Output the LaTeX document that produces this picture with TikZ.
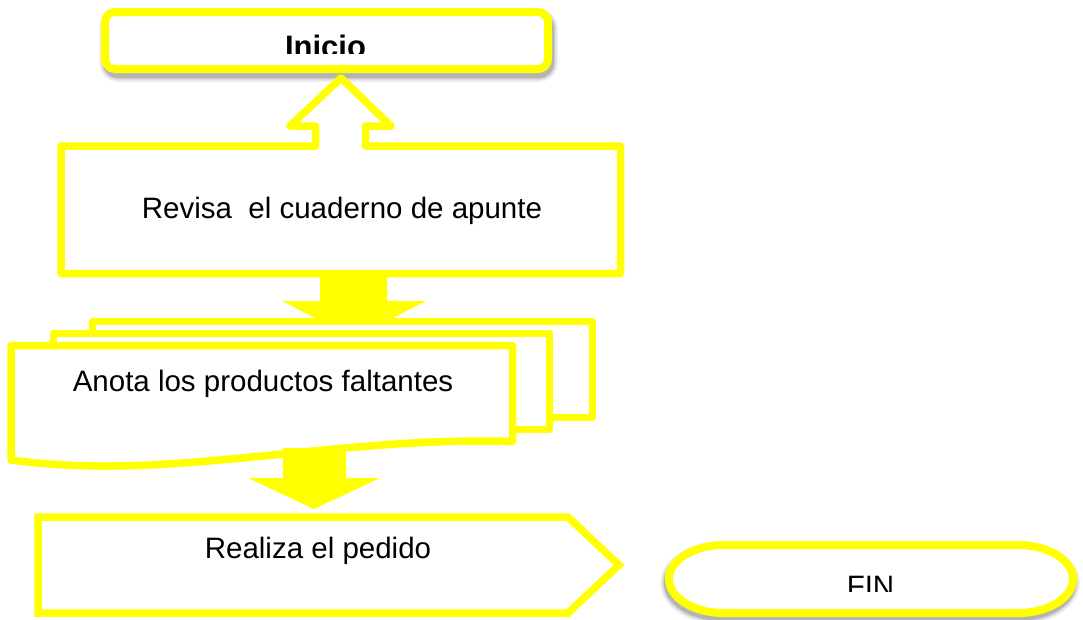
\documentclass[tikz,border=0pt]{standalone}
\usepackage{fontspec}
\setmainfont{Liberation Sans}
\begin{document}
\begin{tikzpicture}[x=1pt,y=-1pt,
  yl/.style={draw={rgb,255:red,255;green,255;blue,0}},
  ylf/.style={fill={rgb,255:red,255;green,255;blue,0}},
  shape line/.style={yl, line width=7.5pt, fill=white, line join=round},
  lbl/.style={font=\fontsize{29.5}{34}\selectfont, anchor=base, inner sep=0pt},
  blk/.style={ylf, draw=none}
]
\useasboundingbox (0,0) rectangle (1083,619);

% --- Inicio (terminal) with shadow
\foreach \w/\o in {16/0.05,13/0.07,10/0.09,8/0.12}
  \draw[line width=\w pt, black, opacity=\o, rounded corners=11] (107,17) rectangle (550,74);
\draw[shape line, line width=8pt, rounded corners=10] (105,12) rectangle (548,69);
\coordinate (inicio) at (326,69);
\begin{scope}
  \clip (200,20) rectangle (450,53);
  \node[lbl, font=\fontsize{31}{36}\selectfont\bfseries] (tinicio) at (325.5,57) {Inicio};
\end{scope}

% --- Revisa box with up block arrow
\draw[shape line] (61,146) -- (315.5,146) -- (315.5,126) -- (290,126) -- (341,78)
  -- (391,126) -- (365.5,126) -- (365.5,146) -- (620.5,146) -- (620.5,273.5)
  -- (61,273.5) -- cycle;
\node[lbl] (trevisa) at (342,218) {Revisa\ \ el cuaderno de apunte};

% --- block arrow 1 (behind the documents)
\fill[blk] (320,273) -- (387,273) -- (387,301) -- (426,301) -- (354,338)
  -- (282,301) -- (320,301) -- cycle;

% --- multi-document
\draw[shape line] (92.5,321.5) rectangle (592.5,417.5);
\draw[shape line] (53.5,333.5) rectangle (549.5,429.5);
\draw[shape line] (11,345.5) -- (512.5,345.5) -- (512.5,441.5)
  .. controls (330,436) and (170,482) .. (11,460) -- cycle;
\node[lbl] (tanota) at (263,391) {Anota los productos faltantes};

% --- block arrow 2
\fill[blk] (283,448) -- (346,448) -- (346,478) -- (380,478) -- (314,509)
  -- (248,478) -- (283,478) -- cycle;

% --- Realiza el pedido (pentagon)
\draw[shape line, line join=miter] (38,517) -- (568,517) -- (619,565) -- (568,613)
  -- (38,613) -- cycle;
\node[lbl] (trealiza) at (318,558) {Realiza el pedido};

% --- FIN terminal with shadow
\foreach \w/\o in {16/0.05,13/0.07,10/0.09,8/0.12}
  \draw[line width=\w pt, black, opacity=\o]
    (723,549) -- (1017,549) arc[start angle=-90,end angle=90,x radius=55,y radius=34]
    -- (723,617) arc[start angle=90,end angle=270,x radius=55,y radius=34] -- cycle;
\draw[shape line, line width=8pt]
  (724,545) -- (1018,545) arc[start angle=-90,end angle=90,x radius=55,y radius=34]
  -- (724,613) arc[start angle=90,end angle=270,x radius=55,y radius=34] -- cycle;
\begin{scope}
  \clip (800,560) rectangle (950,591);
  \node[lbl] (tfin) at (870.5,596) {FIN};
\end{scope}
\end{tikzpicture}
\end{document}
